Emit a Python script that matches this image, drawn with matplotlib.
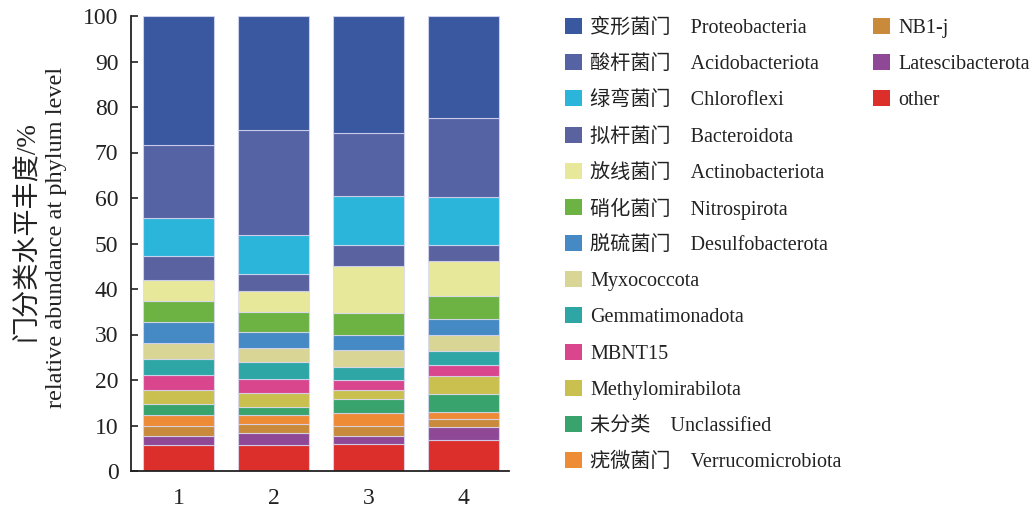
import matplotlib
matplotlib.use("Agg")
import matplotlib.pyplot as plt
from matplotlib.patches import Rectangle
import numpy as np

plt.rcParams['font.family'] = ['Liberation Serif', 'Noto Sans CJK SC']

# Samples
samples = ["1", "2", "3", "4"]

# Phyla in stacking order (bottom -> top), relative abundance in %
other = [5.8, 5.8, 5.9, 6.8]
latescibacterota = [2.0, 2.5, 1.9, 2.8]
nb1_j = [2.2, 2.0, 2.1, 1.8]
verrucomicrobiota = [2.3, 1.9, 2.8, 1.65]
unclassified = [2.45, 1.8, 3.2, 3.85]
methylomirabilota = [3.05, 3.2, 1.8, 3.9]
mbnt15 = [3.3, 3.1, 2.3, 2.4]
gemmatimonadota = [3.55, 3.6, 2.8, 3.1]
myxococcota = [3.55, 3.1, 3.8, 3.5]
desulfobacterota = [4.5, 3.5, 3.4, 3.7]
nitrospirota = [4.6, 4.4, 4.7, 4.9]
actinobacteriota = [4.7, 4.6, 10.3, 7.7]
bacteroidota = [5.2, 3.7, 4.7, 3.5]
chloroflexi = [8.4, 8.7, 10.7, 10.6]
acidobacteriota = [16.0, 23.1, 13.8, 17.4]
proteobacteria = [28.4, 25.0, 25.8, 22.4]

series = [
    ("other", other, "#DC2F2C"),
    ("Latescibacterota", latescibacterota, "#8E4895"),
    ("NB1-j", nb1_j, "#C98A3C"),
    ("疣微菌门\u3000Verrucomicrobiota", verrucomicrobiota, "#EE8B37"),
    ("未分类\u3000Unclassified", unclassified, "#38A36C"),
    ("Methylomirabilota", methylomirabilota, "#C9C050"),
    ("MBNT15", mbnt15, "#D9468D"),
    ("Gemmatimonadota", gemmatimonadota, "#2EA6A6"),
    ("Myxococcota", myxococcota, "#D9D595"),
    ("脱硫菌门\u3000Desulfobacterota", desulfobacterota, "#4589C5"),
    ("硝化菌门\u3000Nitrospirota", nitrospirota, "#6DB344"),
    ("放线菌门\u3000Actinobacteriota", actinobacteriota, "#E8E89A"),
    ("拟杆菌门\u3000Bacteroidota", bacteroidota, "#5A62A0"),
    ("绿弯菌门\u3000Chloroflexi", chloroflexi, "#2BB5DA"),
    ("酸杆菌门\u3000Acidobacteriota", acidobacteriota, "#5562A3"),
    ("变形菌门\u3000Proteobacteria", proteobacteria, "#3A58A0"),
]

W, H = 1034, 508
fig = plt.figure(figsize=(W / 100, H / 100), dpi=100)
ax = fig.add_axes([131 / W, 1 - 471 / H, (509 - 131) / W, (471 - 16) / H])

x = np.arange(1, len(samples) + 1)
bottom = np.zeros(len(samples))
for label, vals, color in series:
    vals = np.array(vals)
    ax.bar(x, vals, width=0.755, bottom=bottom, color=color,
           edgecolor=(0.85, 0.85, 0.95, 0.8), linewidth=0.8, zorder=2)
    bottom += vals

ax.set_xlim(0.5, 4.48)
ax.set_ylim(0, 100)
ax.set_xticks(x)
ax.set_xticklabels(samples)
ax.set_yticks(np.arange(0, 101, 10))
ax.tick_params(axis='both', direction='in', length=5, width=1.2,
               labelsize=17, colors='#222222')
ax.tick_params(axis='x', pad=12)
ax.tick_params(axis='y', pad=9)
for side in ("top", "right"):
    ax.spines[side].set_visible(False)
for side in ("left", "bottom"):
    ax.spines[side].set_linewidth(1.3)
    ax.spines[side].set_color('#222222')

# Two-line y-axis title
fig.text(27 / W, 1 - 231 / H, "门分类水平丰度/%", rotation=90,
         ha='center', va='center', fontsize=19.5, fontweight='light',
         color='#222222')
fig.text(57 / W, 1 - 237 / H, "relative abundance at phylum level", rotation=90,
         ha='center', va='center', fontsize=17.5, color='#222222')

# Legend, listed from the top of the stack downwards in two columns
entries = series[::-1]
col1 = entries[:13]
col2 = entries[13:]
row0, step = 26, 36.17
for col, (mx, tx) in zip((col1, col2), ((565, 590), (873, 898))):
    for i, (label, _, color) in enumerate(col):
        yc = row0 + i * step
        fig.patches.append(Rectangle((mx / W, 1 - (yc + 8) / H), 17 / W, 16 / H,
                                     transform=fig.transFigure, facecolor=color,
                                     edgecolor='none'))
        fig.text(tx / W, 1 - yc / H, label, ha='left', va='center_baseline',
                 fontsize=14.5, fontweight='light', color='#222222')

fig.savefig("out.png", dpi=100)
